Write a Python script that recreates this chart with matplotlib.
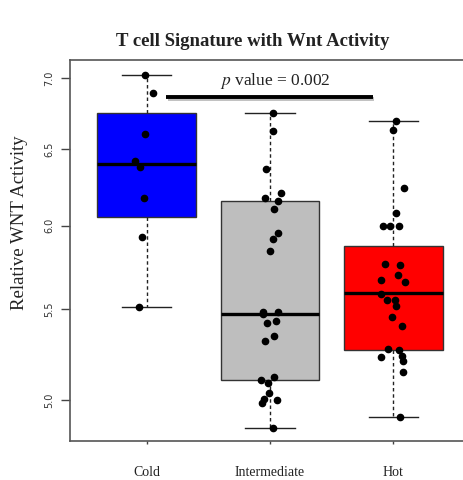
import numpy as np
import matplotlib
matplotlib.use("Agg")
import matplotlib.pyplot as plt
from matplotlib.ticker import FixedLocator, NullLocator
import matplotlib.patheffects as pe

plt.rcParams['mathtext.fontset'] = 'stix'

categories = ["Cold", "Intermediate", "Hot"]
box_colors = ["#0000FF", "#BEBEBE", "#FF0000"]

# Box statistics
whisker_low = [5.512, 4.857, 4.910]
q1 = [6.052, 5.106, 5.268]
medians = [6.397, 5.468, 5.590]
q3 = [6.747, 6.156, 5.875]
whisker_high = [7.024, 6.751, 6.695]

# Individual points (values) and their horizontal jitter
cold_values = [7.024, 6.889, 6.604, 6.420, 6.378, 6.173, 5.928, 5.512]
cold_jitter = [-0.01, 0.055, -0.01, -0.094, -0.054, -0.022, -0.037, -0.065]

inter_values = [6.751, 6.625, 6.363, 6.209, 6.173, 6.158, 6.104, 5.951, 5.918, 5.844,
                5.480, 5.480, 5.468, 5.417, 5.432, 5.344, 5.320, 5.106, 5.122, 5.091,
                5.038, 5.005, 4.986, 5.000, 4.857]
inter_jitter = [0.022, 0.027, -0.035, 0.092, -0.038, 0.063, 0.033, 0.065, 0.027, 0.0,
                -0.054, 0.065, -0.054, -0.027, 0.051, 0.033, -0.041, -0.076, 0.030, -0.016,
                -0.006, -0.046, -0.065, 0.057, 0.022]

hot_values = [6.695, 6.630, 6.238, 6.077, 5.999, 5.999, 5.999, 5.764, 5.760, 5.698,
              5.668, 5.654, 5.587, 5.551, 5.551, 5.516, 5.453, 5.402, 5.272, 5.268,
              5.228, 5.233, 5.208, 5.148, 4.910]
hot_jitter = [0.018, -0.006, 0.089, 0.018, -0.084, -0.025, 0.041, -0.068, 0.051, 0.038,
              -0.098, 0.095, -0.098, -0.052, 0.010, 0.018, -0.008, 0.071, -0.043, 0.046,
              -0.098, 0.073, 0.081, 0.081, 0.057]

y_ticks = [5.0, 5.5, 6.0, 6.5, 7.0]
y_tick_labels = ["5.0", "5.5", "6.0", "6.5", "7.0"]

p_text = "value = 0.002"
p_line_x = [1.16, 2.835]
p_line_y = 6.864

fig = plt.figure(figsize=(4.64, 4.80), dpi=100)
ax = fig.add_axes([70/464, 39/480, 400/464, 381/480])
ax.set_yscale('log')

positions = [1, 2, 3]
stats = []
for i in range(3):
    stats.append(dict(whislo=whisker_low[i], q1=q1[i], med=medians[i], q3=q3[i],
                      whishi=whisker_high[i], fliers=[]))

bp = ax.bxp(stats, positions=positions, widths=0.8, capwidths=[0.4]*3,
            patch_artist=True, showfliers=False,
            boxprops=dict(edgecolor='#333333', linewidth=1.0),
            whiskerprops=dict(color='#222222', linewidth=1.0, linestyle=(0, (2.5, 2))),
            capprops=dict(color='#222222', linewidth=1.0),
            medianprops=dict(color='black', linewidth=2.4))
for patch, c in zip(bp['boxes'], box_colors):
    patch.set_facecolor(c)

for pos, vals, jit in zip(positions, [cold_values, inter_values, hot_values],
                          [cold_jitter, inter_jitter, hot_jitter]):
    xs = pos + np.array(jit)
    ax.plot(xs, vals, 'o', color='black', ms=4.5, zorder=5)

ax.plot(p_line_x, [p_line_y, p_line_y], color='black', lw=2.8, solid_capstyle='butt',
        path_effects=[pe.SimpleLineShadow(offset=(1, -1.5), shadow_color='gray', alpha=0.5),
                      pe.Normal()])

ax.set_xlim(0.38, 3.62)
ax.set_ylim(4.790, 7.133)

ax.yaxis.set_major_locator(FixedLocator(y_ticks))
ax.yaxis.set_minor_locator(NullLocator())
ax.set_yticklabels(y_tick_labels, rotation=90, va='center', fontsize=7,
                   family='DejaVu Sans', color='#333333')
ax.tick_params(axis='y', length=6.5, width=1.0, color='#444444', pad=5)

ax.set_xticks(positions)
ax.set_xticklabels(categories, fontsize=10, family='Liberation Serif', color='#222222')
ax.tick_params(axis='x', length=2, width=1.0, color='#444444', pad=16)

for s in ax.spines.values():
    s.set_color('#555555')
    s.set_linewidth(1.2)

fig.text(252.5/464, 1 - 42/480, "T cell Signature with Wnt Activity", ha='center', va='center',
         fontsize=13.5, family='Liberation Serif', fontweight='bold', color='#222222')
fig.text(19.5/464, 1 - 222.5/480, "Relative WNT Activity", ha='center', va='center',
         rotation=90, fontsize=13.5, family='Liberation Serif', color='#222222')
fig.text(275/464, 1 - 81/480, r"$\mathit{p}$ " + p_text, ha='center', va='center',
         fontsize=12.5, family='Liberation Serif', color='#222222')

fig.savefig("out.png", dpi=100)
